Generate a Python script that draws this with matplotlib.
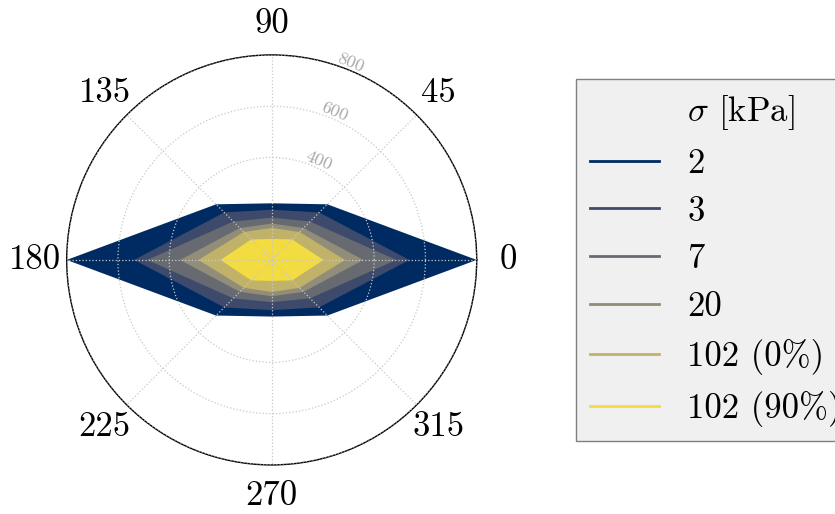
import numpy as np
import matplotlib
matplotlib.use("Agg")
import matplotlib.pyplot as plt

plt.rcParams['font.family'] = 'serif'
plt.rcParams['font.serif'] = ['cmr10']
plt.rcParams['mathtext.fontset'] = 'cm'
plt.rcParams['axes.formatter.use_mathtext'] = True

# directions (deg) and radial extent for each stress level
angles = [0, 45, 90, 135, 180, 225, 270, 315]
labels = ['2', '3', '7', '20', '102 (0%)', '102 (90%)']
r_2 = [800, 307, 221, 307, 800, 307, 221, 307]
r_3 = [537, 262, 196, 262, 537, 262, 196, 262]
r_7 = [486, 212, 165, 212, 486, 212, 165, 212]
r_20 = [358, 176, 142, 176, 358, 176, 142, 176]
r_102_0 = [286, 154, 125, 154, 286, 154, 125, 154]
r_102_90 = [202, 113, 82, 113, 200, 113, 82, 113]
series = [r_2, r_3, r_7, r_20, r_102_0, r_102_90]

rticks = [400, 600, 800]
rmax = 800

colors = plt.cm.cividis(np.linspace(0.05, 0.95, len(series)))
theta = np.deg2rad(angles)

fig = plt.figure(figsize=(8.35, 5.14), dpi=100)
ax = fig.add_axes([0.0799, 0.0953, 0.491, 0.798], projection='polar')

# legend title row as an empty handle
ax.plot([], [], color='none', label=r'$\sigma$ [kPa]')
for r, c, lbl in zip(series, colors, labels):
    ax.fill(theta, r, color=c, lw=0, zorder=1)
    ax.plot([], [], color=c, lw=2, label=lbl)

ax.set_ylim(0, rmax)
ax.set_yticks(rticks)
ax.set_yticklabels([str(t) for t in rticks], color='#a8a8a8', fontsize=13)
ax.set_rlabel_position(72)
ax.tick_params(axis='y', labelrotation=-22.5)
ax.set_thetagrids(angles, [str(a) for a in angles], fontsize=25)
ax.tick_params(axis='x', pad=12)
ax.grid(True, color='#c8c8c8', linestyle=':', linewidth=0.9)
ax.set_axisbelow(False)
for gl in ax.get_xgridlines() + ax.get_ygridlines():
    gl.set_zorder(2)
ax.spines['polar'].set_linewidth(1.0)

leg = fig.legend(loc='center left', bbox_to_anchor=(0.69, 0.494),
                 fontsize=25, frameon=True, fancybox=False,
                 facecolor='#f0f0f0', edgecolor='#808080', framealpha=1,
                 borderaxespad=0, labelspacing=0.46)
leg.get_frame().set_linewidth(1.0)

fig.savefig('out.png', dpi=100)
